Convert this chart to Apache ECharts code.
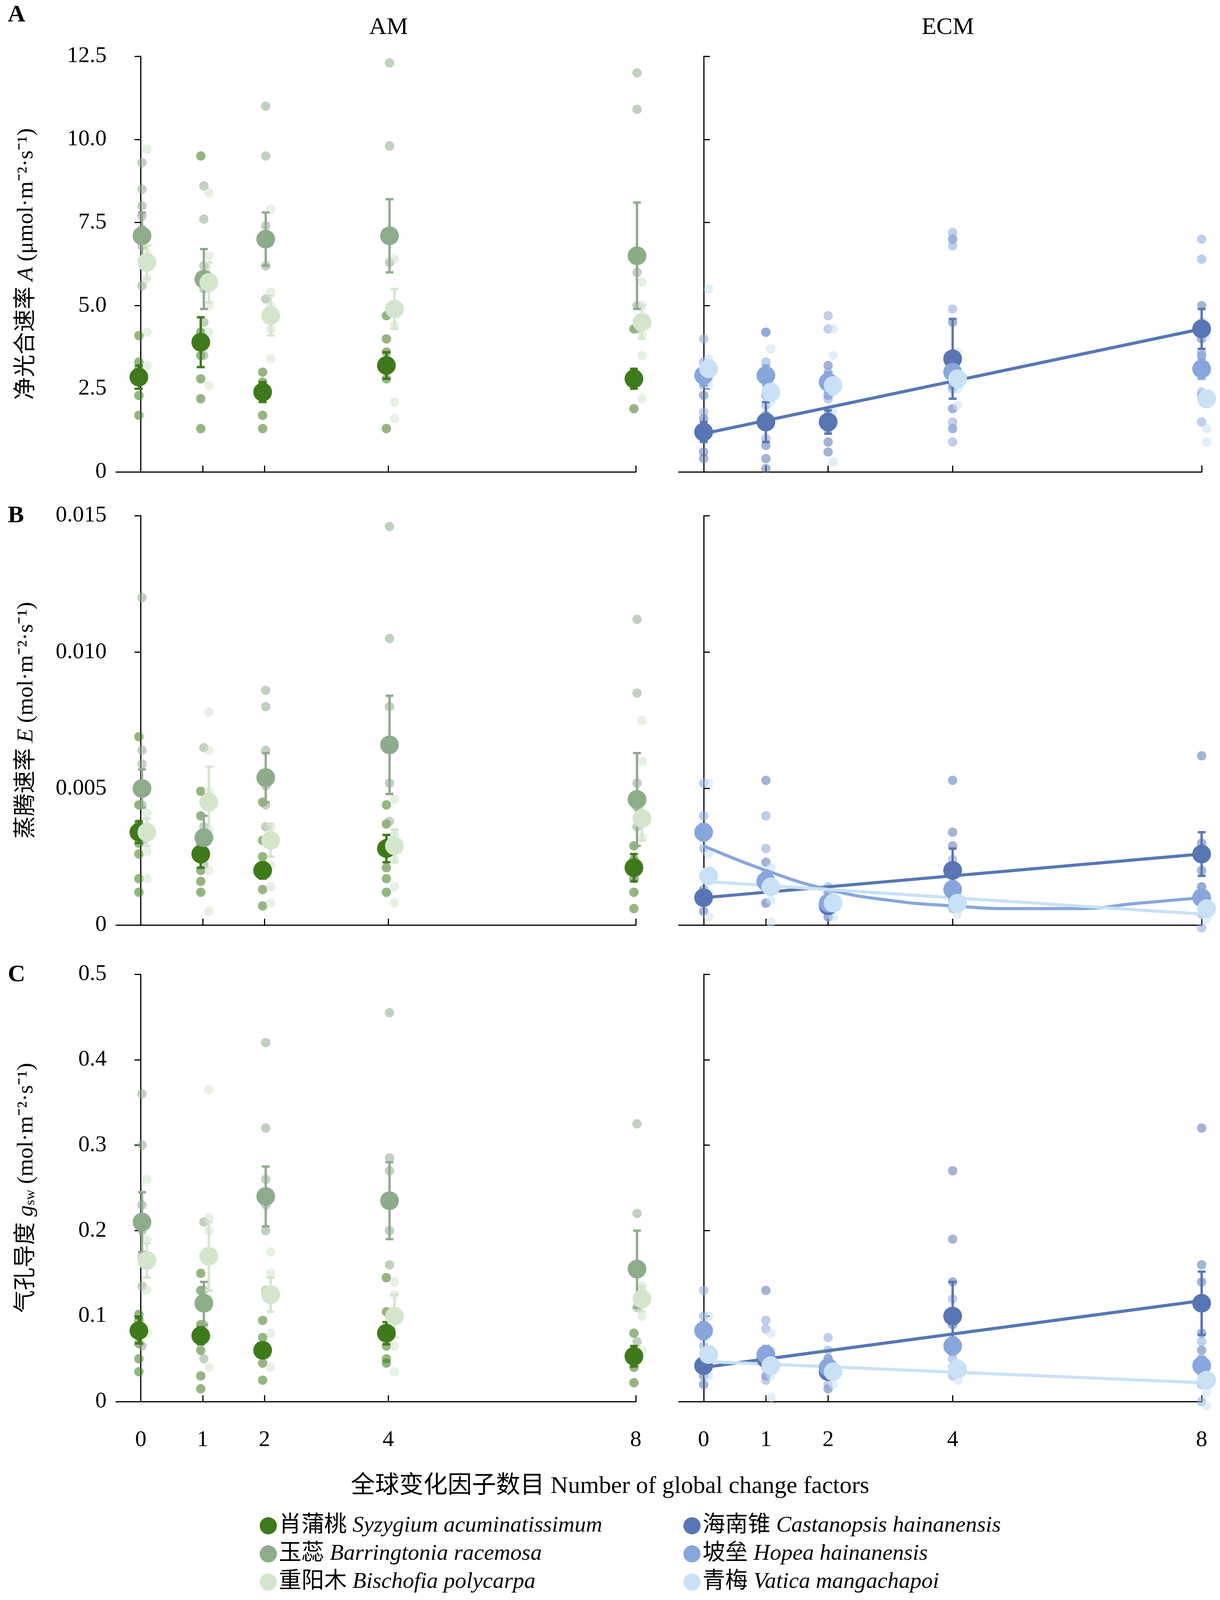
<!DOCTYPE html>
<html>
<head>
<meta charset="utf-8">
<script src="https://cdn.jsdelivr.net/npm/echarts@6/dist/echarts.min.js"></script>
<style>html,body{margin:0;background:#fff}#main{width:3124px;height:4115px}</style>
</head>
<body>
<div id="main"></div>
<script>
// 字体和颜色
const FONT = 'Liberation Serif, Noto Sans CJK SC'
const COLORS = {
  syz: '#3e7a1b', bar: '#8eab8c', bis: '#d3e6cc',
  cas: '#5776b3', hop: '#88a6dc', vat: '#c9e1f5'
}
const NAMES = {
  syz: ['肖蒲桃', 'Syzygium acuminatissimum'],
  bar: ['玉蕊', 'Barringtonia racemosa'],
  bis: ['重阳木', 'Bischofia polycarpa'],
  cas: ['海南锥', 'Castanopsis hainanensis'],
  hop: ['坡垒', 'Hopea hainanensis'],
  vat: ['青梅', 'Vatica mangachapoi']
}
const LEVELS = [0, 1, 2, 4, 8]
const SHIFT = { syz: -0.03, bar: 0.02, bis: 0.1, cas: 0, hop: 0, vat: 0.08 }

// 数据: mean, se, 个体点
const data = {
  A: {
    syz: { mean: [2.85, 3.9, 2.4, 3.2, 2.8], se: [0.35, 0.75, 0.3, 0.4, 0.3],
      pts: [[1.7, 2.3, 2.8, 3.1, 3.3, 4.1], [1.3, 2.2, 2.8, 3.5, 4.2, 9.5], [1.3, 1.7, 2.3, 2.7, 3.0], [1.3, 2.8, 3.6, 4.0, 4.7], [1.9, 2.7, 3.0, 4.3]] },
    bar: { mean: [7.1, 5.8, 7.0, 7.1, 6.5], se: [0.7, 0.9, 0.8, 1.1, 1.6],
      pts: [[5.6, 6.8, 7.3, 7.7, 8.0, 8.5, 9.3], [3.5, 4.5, 5.5, 6.2, 7.6, 8.6], [5.2, 6.2, 6.9, 7.4, 9.5, 11.0], [4.8, 6.3, 7.0, 9.8, 12.3], [4.3, 5.0, 6.0, 10.9, 12.0]] },
    bis: { mean: [6.3, 5.7, 4.7, 4.9, 4.5], se: [0.5, 0.6, 0.6, 0.6, 0.5],
      pts: [[3.2, 4.2, 5.8, 6.2, 6.6, 9.7], [2.6, 4.2, 5.0, 5.8, 6.5, 8.4], [3.4, 4.3, 5.0, 5.4, 7.9], [1.6, 2.1, 4.4, 5.0, 6.4], [2.2, 3.5, 4.1, 5.0, 5.7]] },
    cas: { mean: [1.2, 1.5, 1.5, 3.4, 4.3], se: [0.3, 0.6, 0.35, 1.2, 0.6],
      pts: [[0.4, 0.6, 1.0, 1.3, 1.6, 2.3], [0.1, 0.4, 0.8, 1.7, 2.3, 4.2], [0.6, 0.9, 1.3, 1.7, 2.3, 3.2], [1.3, 1.9, 2.6, 3.3, 4.5, 7.0], [2.3, 3.0, 3.5, 4.0, 4.3, 5.0]] },
    hop: { mean: [2.9, 2.9, 2.7, 3.0, 3.1], se: [0.3, 0.3, 0.3, 0.3, 0.3],
      pts: [[1.8, 2.6, 3.0, 3.3, 4.0], [1.0, 2.0, 2.9, 3.3, 4.2], [1.5, 2.2, 3.0, 4.3, 4.7], [0.9, 1.5, 2.5, 3.2, 4.9, 7.2, 6.8], [1.5, 2.4, 3.0, 3.6, 4.5, 7.0, 6.4]] },
    vat: { mean: [3.1, 2.4, 2.6, 2.8, 2.2], se: [0.25, 0.25, 0.25, 0.25, 0.25],
      pts: [[2.6, 3.0, 3.4, 5.5], [1.5, 2.1, 2.5, 3.7], [0.3, 1.8, 2.4, 3.5, 4.3], [2.0, 2.5, 3.0, 3.6], [0.9, 1.3, 2.2, 3.0, 4.1]] },
    lines: { cas: [[0, 1.15], [8, 4.3]] }
  },
  B: {
    syz: { mean: [0.0034, 0.0026, 0.0020, 0.0028, 0.0021], se: [0.0004, 0.0005, 0.0003, 0.0005, 0.0005],
      pts: [[0.0012, 0.0017, 0.0026, 0.0030, 0.0037, 0.0044, 0.0069], [0.0012, 0.0016, 0.0020, 0.0024, 0.0030, 0.0040, 0.0049], [0.0007, 0.0013, 0.0019, 0.0025, 0.0031, 0.0045], [0.0012, 0.0017, 0.0021, 0.0030, 0.0037, 0.0044], [0.0006, 0.0012, 0.0017, 0.0024, 0.0029]] },
    bar: { mean: [0.0050, 0.0032, 0.0054, 0.0066, 0.0046], se: [0.0007, 0.0008, 0.0009, 0.0018, 0.0017],
      pts: [[0.0031, 0.0044, 0.0049, 0.0059, 0.0064, 0.0120], [0.0022, 0.0034, 0.0036, 0.0045, 0.0065], [0.0036, 0.0044, 0.0051, 0.0064, 0.0080, 0.0086], [0.0038, 0.0052, 0.0066, 0.0080, 0.0105, 0.0146], [0.0036, 0.0043, 0.0052, 0.0085, 0.0112]] },
    bis: { mean: [0.0034, 0.0045, 0.0031, 0.0029, 0.0039], se: [0.0005, 0.0013, 0.0006, 0.0006, 0.0008],
      pts: [[0.0017, 0.0027, 0.0032, 0.0036, 0.0041], [0.0005, 0.0020, 0.0035, 0.0049, 0.0064, 0.0078], [0.0008, 0.0014, 0.0022, 0.0030, 0.0036], [0.0008, 0.0014, 0.0024, 0.0033, 0.0046], [0.0032, 0.0039, 0.0045, 0.0060, 0.0075]] },
    cas: { mean: [0.0010, 0.0016, 0.0007, 0.0020, 0.0026], se: [0.0002, 0.0003, 0.0002, 0.0008, 0.0008],
      pts: [[0.0005, 0.0010, 0.0013], [0.0008, 0.0013, 0.0017, 0.0023, 0.0053], [0.0003, 0.0006, 0.0009, 0.0012], [0.0009, 0.0013, 0.0019, 0.0029, 0.0034, 0.0053], [0.0014, 0.0020, 0.0025, 0.0030, 0.0062]] },
    hop: { mean: [0.0034, 0.0016, 0.0008, 0.0013, 0.0010], se: [0.0003, 0.0003, 0.0002, 0.0003, 0.0002],
      pts: [[0.0018, 0.0028, 0.0034, 0.0040, 0.0052], [0.0008, 0.0014, 0.0019, 0.0028, 0.0040], [0.0003, 0.0006, 0.0010, 0.0014], [0.0006, 0.0010, 0.0014, 0.0018, 0.0024], [-0.0001, 0.0004, 0.0009, 0.0014]] },
    vat: { mean: [0.0018, 0.0014, 0.0008, 0.0008, 0.0006], se: [0.0002, 0.0002, 0.0002, 0.0002, 0.0002],
      pts: [[0.0003, 0.0012, 0.0018, 0.0026, 0.0052], [0.0001, 0.0009, 0.0014, 0.0021], [0.0003, 0.0006, 0.0009, 0.0012], [0.0004, 0.0006, 0.0009], [0.0002, 0.0005, 0.0008]] },
    lines: {
      cas: [[0, 0.0010], [8, 0.0026]],
      hop: [[0, 0.0029], [1, 0.0020], [2, 0.0013], [3, 0.0009], [4, 0.0007], [5, 0.0006], [6, 0.0006], [7, 0.0008], [8, 0.0010]],
      vat: [[0, 0.0016], [8, 0.0004]]
    }
  },
  C: {
    syz: { mean: [0.083, 0.077, 0.060, 0.080, 0.053], se: [0.015, 0.01, 0.008, 0.013, 0.012],
      pts: [[0.035, 0.05, 0.068, 0.083, 0.095, 0.102], [0.015, 0.03, 0.06, 0.075, 0.09, 0.13, 0.15], [0.025, 0.045, 0.055, 0.065, 0.075, 0.095], [0.045, 0.05, 0.065, 0.08, 0.105, 0.145], [0.022, 0.04, 0.06, 0.08]] },
    bar: { mean: [0.21, 0.115, 0.24, 0.235, 0.155], se: [0.035, 0.025, 0.035, 0.045, 0.045],
      pts: [[0.065, 0.135, 0.17, 0.20, 0.23, 0.30, 0.36], [0.05, 0.09, 0.11, 0.13, 0.17, 0.21], [0.13, 0.20, 0.23, 0.26, 0.32, 0.42], [0.16, 0.20, 0.235, 0.27, 0.285, 0.455], [0.07, 0.11, 0.16, 0.22, 0.325]] },
    bis: { mean: [0.165, 0.17, 0.125, 0.10, 0.12], se: [0.02, 0.04, 0.02, 0.025, 0.015],
      pts: [[0.08, 0.13, 0.16, 0.19, 0.26], [0.04, 0.12, 0.17, 0.20, 0.215, 0.365], [0.04, 0.08, 0.12, 0.15, 0.175], [0.035, 0.065, 0.10, 0.125, 0.14], [0.06, 0.10, 0.115, 0.135, 0.13]] },
    cas: { mean: [0.042, 0.050, 0.035, 0.10, 0.115], se: [0.007, 0.01, 0.008, 0.04, 0.037],
      pts: [[0.02, 0.03, 0.04, 0.05], [0.03, 0.04, 0.05, 0.06, 0.13], [0.015, 0.03, 0.04, 0.05], [0.04, 0.06, 0.09, 0.14, 0.19, 0.27], [0.06, 0.08, 0.11, 0.14, 0.16, 0.32]] },
    hop: { mean: [0.083, 0.055, 0.04, 0.065, 0.042], se: [0.01, 0.01, 0.01, 0.01, 0.01],
      pts: [[0.05, 0.065, 0.08, 0.10, 0.13], [0.025, 0.045, 0.06, 0.085, 0.095], [0.02, 0.035, 0.05, 0.06, 0.075], [0.03, 0.05, 0.07, 0.09, 0.12], [0.0, 0.02, 0.04, 0.05, 0.07]] },
    vat: { mean: [0.055, 0.042, 0.035, 0.038, 0.025], se: [0.005, 0.005, 0.005, 0.005, 0.005],
      pts: [[0.03, 0.045, 0.06, 0.10], [0.005, 0.03, 0.045, 0.06, 0.08], [0.02, 0.03, 0.04], [0.025, 0.035, 0.045], [-0.005, 0.01, 0.025, 0.04]] },
    lines: { cas: [[0, 0.040], [8, 0.118]], vat: [[0, 0.047], [8, 0.022]] }
  }
}

// 面板设置
const rows = [
  { key: 'A', top: 144, height: 1064, max: 12.5, interval: 2.5, dec: 1,
    name: ['净光合速率 ', 'A', ' (μmol·m⁻²·s⁻¹)'] },
  { key: 'B', top: 1320, height: 1048, max: 0.015, interval: 0.005, dec: 3,
    name: ['蒸腾速率 ', 'E', ' (mol·m⁻²·s⁻¹)'] },
  { key: 'C', top: 2494, height: 1094, max: 0.5, interval: 0.1, dec: 1,
    name: ['气孔导度 ', 'g', 'sw', ' (mol·m⁻²·s⁻¹)'] }
]
const cols = [
  { left: 297, width: 1331, sp: ['syz', 'bar', 'bis'] },
  { left: 1738, width: 1339, sp: ['cas', 'hop', 'vat'] }
]

let grid = [], xAxis = [], yAxis = [], series = []
let gi = 0
rows.forEach(function (r, ri) {
  cols.forEach(function (c, ci) {
    grid.push({ left: c.left, width: c.width, top: r.top, height: r.height })
    xAxis.push({
      type: 'value', gridIndex: gi, min: -0.4, max: 8, offset: 30,
      axisLine: { lineStyle: { color: '#000', width: 3 } },
      axisTick: { inside: true, length: 16, lineStyle: { width: 3, color: '#000' }, customValues: LEVELS },
      axisLabel: { show: ri == 2, customValues: LEVELS, fontSize: 58, fontFamily: FONT, color: '#000', margin: 40 },
      splitLine: { show: false }
    })
    let nameText = r.key == 'C'
      ? '{n|' + r.name[0] + '}{i|' + r.name[1] + '}{s|' + r.name[2] + '}{n|' + r.name[3] + '}'
      : '{n|' + r.name[0] + '}{i|' + r.name[1] + '}{n|' + r.name[2] + '}'
    yAxis.push({
      type: 'value', gridIndex: gi, min: 0, max: r.max, interval: r.interval,
      name: ci == 0 ? nameText : '', nameLocation: 'middle', nameGap: 200,
      nameTextStyle: {
        rich: {
          n: { fontSize: 58, fontFamily: FONT, color: '#000' },
          i: { fontSize: 58, fontFamily: FONT, fontStyle: 'italic', color: '#000' },
          s: { fontSize: 36, fontFamily: FONT, color: '#000', verticalAlign: 'bottom' }
        }
      },
      axisLine: { show: true, lineStyle: { color: '#000', width: 3 } },
      axisTick: { inside: ci == 1, length: 16, lineStyle: { width: 3, color: '#000' } },
      axisLabel: {
        show: ci == 0, fontSize: 58, fontFamily: FONT, color: '#000', margin: 24,
        formatter: function (v) { return v == 0 ? '0' : v.toFixed(r.dec) }
      },
      splitLine: { show: false }
    })
    let d = data[r.key]
    c.sp.forEach(function (s) {
      let pts = []
      d[s].pts.forEach(function (arr, li) {
        arr.forEach(function (v) { pts.push([LEVELS[li] + SHIFT[s], v]) })
      })
      series.push({
        type: 'scatter', xAxisIndex: gi, yAxisIndex: gi, symbolSize: 24, data: pts, clip: false,
        itemStyle: { color: COLORS[s], opacity: 0.55 }, silent: true, z: 2
      })
    })
    // 回归线 (只在ECM)
    if (ci == 1) {
      Object.keys(d.lines).forEach(function (s) {
        series.push({
          type: 'line', xAxisIndex: gi, yAxisIndex: gi, data: d.lines[s], smooth: true,
          showSymbol: false, lineStyle: { color: COLORS[s], width: 8 }, z: 3
        })
      })
    }
    c.sp.forEach(function (s) {
      let eb = d[s].mean.map(function (m, li) { return [LEVELS[li] + SHIFT[s], m - d[s].se[li], m + d[s].se[li]] })
      series.push({
        type: 'custom', xAxisIndex: gi, yAxisIndex: gi, data: eb, z: 4, clip: false,
        renderItem: function (params, api) {
          let lo = api.coord([api.value(0), api.value(1)])
          let hi = api.coord([api.value(0), api.value(2)])
          let st = { stroke: COLORS[s], lineWidth: 6 }
          return {
            type: 'group', children: [
              { type: 'line', shape: { x1: lo[0], y1: lo[1], x2: hi[0], y2: hi[1] }, style: st },
              { type: 'line', shape: { x1: lo[0] - 10, y1: lo[1], x2: lo[0] + 10, y2: lo[1] }, style: st },
              { type: 'line', shape: { x1: hi[0] - 10, y1: hi[1], x2: hi[0] + 10, y2: hi[1] }, style: st }
            ]
          }
        }
      })
      series.push({
        name: NAMES[s][0] + ' ' + NAMES[s][1],
        type: 'scatter', xAxisIndex: gi, yAxisIndex: gi, symbolSize: 48, z: 5, clip: false,
        data: d[s].mean.map(function (m, li) { return [LEVELS[li] + SHIFT[s], m] }),
        itemStyle: { color: COLORS[s], opacity: 1 }
      })
    })
    gi++
  })
})

function legendOf(keys, left) {
  return {
    orient: 'vertical', left: left, top: 3872, height: 260, itemGap: 14, itemWidth: 44, itemHeight: 44,
    icon: 'circle', data: keys.map(function (k) { return NAMES[k][0] + ' ' + NAMES[k][1] }),
    formatter: function (n) {
      let p = n.split(' ')
      return '{c|' + p[0] + ' }{i|' + p.slice(1).join(' ') + '}'
    },
    textStyle: {
      rich: {
        c: { fontSize: 58, fontFamily: FONT, color: '#000' },
        i: { fontSize: 58, fontFamily: FONT, fontStyle: 'italic', color: '#000' }
      }
    }
  }
}

let txt = function (t, x, y, size, bold) {
  return { type: 'text', left: x, top: y, style: { text: t, font: (bold ? 'bold ' : '') + size + 'px ' + FONT, fill: '#000' } }
}

let myChart = echarts.init(document.getElementById('main'))
myChart.setOption({
  animation: false,
  backgroundColor: '#fff',
  grid: grid, xAxis: xAxis, yAxis: yAxis, series: series,
  legend: [legendOf(['syz', 'bar', 'bis'], 660), legendOf(['cas', 'hop', 'vat'], 1745)],
  graphic: [
    txt('A', 20, 8, 62, true), txt('B', 20, 1290, 62, true), txt('C', 20, 2465, 62, true),
    txt('AM', 945, 40, 62), txt('ECM', 2360, 40, 62),
    { type: 'text', left: 'center', top: 3775, style: { text: '全球变化因子数目 Number of global change factors', font: '62px ' + FONT, fill: '#000' } }
  ]
})
</script>
</body>
</html>
